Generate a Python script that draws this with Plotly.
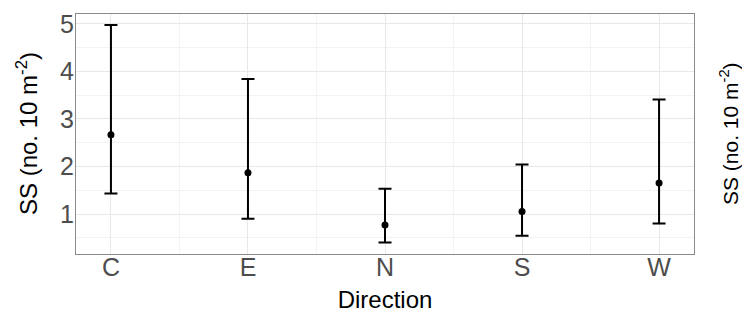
import plotly.graph_objects as go

categories = ["C", "E", "N", "S", "W"]
means = [2.67, 1.87, 0.77, 1.05, 1.65]
upper = [4.98, 3.84, 1.53, 2.04, 3.41]
lower = [1.43, 0.90, 0.40, 0.54, 0.80]
y_ticks = [1, 2, 3, 4, 5]

xs = list(range(len(categories)))
err_plus = [u - m for u, m in zip(upper, means)]
err_minus = [m - l for m, l in zip(means, lower)]

ytitle = "SS (no. 10 m<sup>-2</sup>)"
font = "Liberation Sans, Arial, sans-serif"

fig = go.Figure()
fig.add_trace(go.Scatter(
    x=xs, y=means, mode="markers",
    marker=dict(color="black", size=7),
    error_y=dict(type="data", symmetric=False, array=err_plus, arrayminus=err_minus,
                 color="black", thickness=2, width=6.5),
    showlegend=False,
))

fig.update_layout(
    width=742, height=320,
    margin=dict(l=76, r=48, t=14, b=66, autoexpand=False),
    paper_bgcolor="white", plot_bgcolor="white",
    font=dict(family=font, color="black"),
    xaxis=dict(
        range=[-0.255, 4.255], tickmode="array", tickvals=xs, ticktext=categories,
        showgrid=True, gridcolor="#e8e8e8", gridwidth=1,
        minor=dict(tickmode="linear", tick0=-0.5, dtick=1, showgrid=True, gridcolor="#f3f3f3", gridwidth=1),
        tickfont=dict(size=25, color="#4d4d4d"),
        ticks="", ticklen=0, ticklabelstandoff=-9,
        showline=True, linecolor="#8a8a8a", linewidth=1, mirror=True,
        zeroline=False, automargin=False,
        title=dict(text="Direction", font=dict(size=24, color="black"), standoff=11),
    ),
    yaxis=dict(
        range=[0.158, 5.21], tickmode="array", tickvals=y_ticks,
        showgrid=True, gridcolor="#e8e8e8", gridwidth=1,
        minor=dict(tickmode="linear", tick0=0.5, dtick=1, showgrid=True, gridcolor="#f3f3f3", gridwidth=1),
        tickfont=dict(size=25, color="#4d4d4d"),
        ticks="", ticklen=0, ticklabelstandoff=-4,
        showline=True, linecolor="#8a8a8a", linewidth=1, mirror=True,
        zeroline=False, automargin=False,
    ),
    annotations=[
        dict(
            text=ytitle, textangle=-90, xref="paper", yref="paper",
            x=0, y=0.5, xanchor="center", yanchor="middle", xshift=-49,
            showarrow=False, font=dict(size=24, color="black", family=font),
        ),
        dict(
            text=ytitle, textangle=-90, xref="paper", yref="paper",
            x=1, y=0.5, xanchor="center", yanchor="middle", xshift=35,
            showarrow=False, font=dict(size=21, color="black", family=font),
        ),
    ],
)

fig.write_html("out.html")
